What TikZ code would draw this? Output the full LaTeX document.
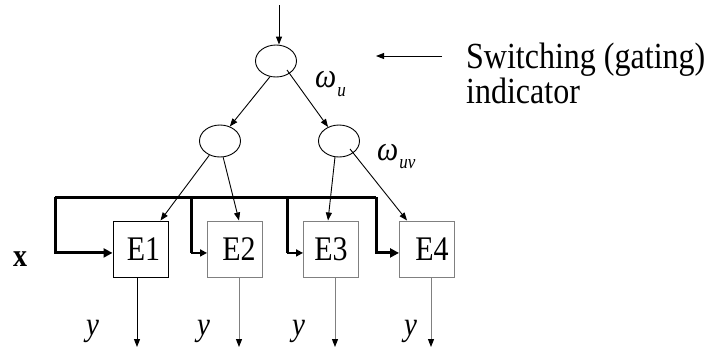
\documentclass[tikz,border=0pt]{standalone}
\usepackage{fontspec}
\setmainfont{Liberation Serif}
\usepackage{graphicx}
\usetikzlibrary{shapes.geometric,arrows.meta,calc}
\newcommand\vsc[1]{\scalebox{1}[1.15]{#1}}
\begin{document}
\begin{tikzpicture}[x=1pt,y=-1pt,
  gate/.style={draw, ellipse, minimum width=41pt, minimum height=32pt, inner sep=0pt, line width=0.9pt},
  expbox/.style={draw, rectangle, minimum width=55pt, minimum height=56pt, inner sep=0pt, line width=1pt,
    font=\fontsize{30}{30}\selectfont},
  conn/.style={line width=0.9pt, -{Triangle[length=8pt,width=6pt]}},
  outconn/.style={line width=1pt, -{Triangle[length=8pt,width=6pt,black]}},
  busline/.style={line width=3pt},
  busarrow/.style={line width=3pt, -{Triangle[length=9pt,width=9pt]}},
  subbus/.style={line width=2pt, -{Triangle[length=7pt,width=7pt]}},
  lab/.style={inner sep=0pt, anchor=base west},
  grayc/.style={draw=black!50}
]
\useasboundingbox (0,0) rectangle (707,349);

% gating nodes
\node[gate] (g0) at (276,61) {};
\node[gate] (g1) at (220,141) {};
\node[gate] (g2) at (339,141) {};

% experts
\node[expbox] (E1) at (140.5,249) {\vsc{\hspace*{6pt}E1}};
\node[expbox, grayc] (E2) at (235,249) {\vsc{\hspace*{8pt}E2}};
\node[expbox, grayc] (E3) at (331,249) {\vsc{E3}};
\node[expbox, grayc] (E4) at (427,249) {\vsc{\hspace*{10pt}E4}};

% coordinates
\coordinate (in) at (279,5);
\coordinate (swa) at (442,56);
\coordinate (swb) at (376,56);
\coordinate (busL) at (55,197);
\coordinate (b2) at (191,197);
\coordinate (b3) at (287,197);
\coordinate (busR) at (376,197);
\coordinate (o1) at (137,347);
\coordinate (o2) at (239,347);
\coordinate (o3) at (335,347);
\coordinate (o4) at (431,347);

% input and indicator arrows
\draw[conn] (in) -- (in |- g0.north);
\draw[conn] (swa) -- (swb);

% tree connectors
\draw[conn] (g0.249) -- (g1.56);
\draw[conn] ($(g0.center)+(11,9)$) -- (g2.128);
\draw[conn] (g1.233) -- (E1.55);
\draw[conn] (g1.281) -- (E2.82);
\draw[conn] (g2.256) -- (E3.96);
\draw[conn] ($(g2.center)+(11,8)$) -- (E4.125);

% input bus x
\draw[busline] (busR) -- (busL);
\draw[busarrow] (busL) |- (E1.188);
\draw[busline] (b2) -- (b2 |- E2.188);
\draw[subbus] (b2 |- E2.188) -- (E2.188);
\draw[busline] (b3) -- (b3 |- E3.188);
\draw[subbus] (b3 |- E3.188) -- (E3.188);
\draw[busarrow] (busR) |- (E4.188);

% outputs
\draw[outconn] (E1.south -| o1) -- (o1);
\draw[outconn, draw=black!50] (E2.south -| o2) -- (o2);
\draw[outconn, draw=black!50] (E3.south -| o3) -- (o3);
\draw[outconn, draw=black!50] (E4.south -| o4) -- (o4);

% labels
\node[lab, font=\fontsize{32}{32}\selectfont] (sw1) at (466,68) {\vsc{Switching (gating)}};
\node[lab, font=\fontsize{32}{32}\selectfont] (sw2) at (466,103) {\vsc{indicator}};
\node[lab, font=\fontsize{30}{30}\selectfont\itshape] (wu) at (315,87) {\vsc{ω\hspace{1pt}\raisebox{-8pt}{\fontsize{17}{17}\selectfont u}}};
\node[lab, font=\fontsize{30}{30}\selectfont\itshape] (wuv) at (377,160) {\vsc{ω\hspace{1pt}\raisebox{-7pt}{\fontsize{17}{17}\selectfont uv}}};
\node[inner sep=0pt, anchor=base, font=\fontsize{28}{28}\selectfont\bfseries] (xlab) at (20,266) {\vsc{x}};
\node[lab, font=\fontsize{29}{29}\selectfont\itshape] (y1) at (86,335) {\vsc{y}};
\node[lab, font=\fontsize{29}{29}\selectfont\itshape] (y2) at (197,335) {\vsc{y}};
\node[lab, font=\fontsize{29}{29}\selectfont\itshape] (y3) at (292,335) {\vsc{y}};
\node[lab, font=\fontsize{29}{29}\selectfont\itshape] (y4) at (404,335) {\vsc{y}};
\end{tikzpicture}
\end{document}
